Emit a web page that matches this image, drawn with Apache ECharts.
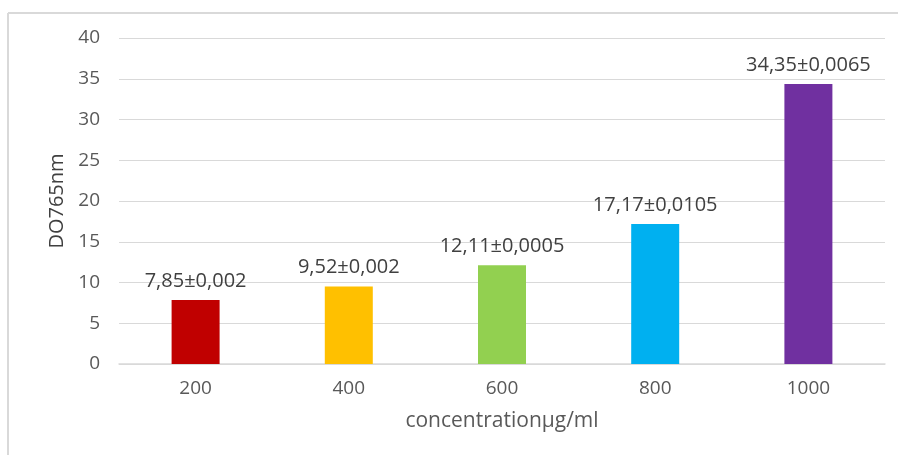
<!DOCTYPE html>
<html>
<head>
<meta charset="utf-8">
<script src="https://cdn.jsdelivr.net/npm/echarts@6/dist/echarts.min.js"></script>
<style>
  html, body { margin: 0; padding: 0; background: #fff; }
  #chart { width: 898px; height: 455px; }
</style>
</head>
<body>
<div id="chart"></div>
<script>
// Concentration levels (µg/ml) and measured absorbance at 765 nm
const categories = ['200', '400', '600', '800', '1000'];
const values = [7.85, 9.52, 12.11, 17.17, 34.35];
const deviations = ['0,002', '0,002', '0,0005', '0,0105', '0,0065'];
const barColors = ['#C00000', '#FFC000', '#92D050', '#00B0F0', '#7030A0'];
const yTicks = [0, 5, 10, 15, 20, 25, 30, 35, 40];

const FONT = '"Open Sans", sans-serif';
const chart = echarts.init(document.getElementById('chart'), null, { renderer: 'canvas' });

chart.setOption({
  animation: false,
  backgroundColor: '#fff',
  textStyle: { fontFamily: FONT },
  graphic: [
    { type: 'line', shape: { x1: 8, y1: 13, x2: 8, y2: 455 }, style: { stroke: '#d9d9d9', lineWidth: 2 } },
    { type: 'line', shape: { x1: 8, y1: 13, x2: 898, y2: 13 }, style: { stroke: '#d9d9d9', lineWidth: 2 } }
  ],
  grid: { left: 119, right: 13, top: 38, bottom: 91, containLabel: false },
  xAxis: {
    type: 'category',
    data: categories,
    name: 'concentrationµg/ml',
    nameLocation: 'middle',
    nameGap: 47,
    nameTextStyle: { fontFamily: FONT, fontSize: 21, color: '#595959' },
    axisLine: { show: true, lineStyle: { color: '#d9d9d9', width: 1.5 } },
    axisTick: { show: false },
    axisLabel: { fontFamily: FONT, fontSize: 19, color: '#595959', margin: 15 }
  },
  yAxis: {
    type: 'value',
    min: yTicks[0],
    max: yTicks[yTicks.length - 1],
    interval: yTicks[1] - yTicks[0],
    name: 'DO765nm',
    nameLocation: 'middle',
    nameGap: 50,
    nameRotate: 90,
    nameTextStyle: { fontFamily: FONT, fontSize: 20, color: '#404040' },
    axisLine: { show: false },
    axisTick: { show: false },
    axisLabel: { fontFamily: FONT, fontSize: 19, color: '#595959', margin: 19 },
    splitLine: { lineStyle: { color: '#d9d9d9', width: 1 } }
  },
  series: [{
    type: 'bar',
    barWidth: 48,
    data: values.map((v, i) => ({ value: v, itemStyle: { color: barColors[i] } })),
    label: {
      show: true,
      position: 'top',
      distance: 9,
      fontFamily: FONT,
      fontSize: 20,
      color: '#404040',
      formatter: p => values[p.dataIndex].toFixed(2).replace('.', ',') + '±' + deviations[p.dataIndex]
    }
  }]
});
</script>
</body>
</html>
